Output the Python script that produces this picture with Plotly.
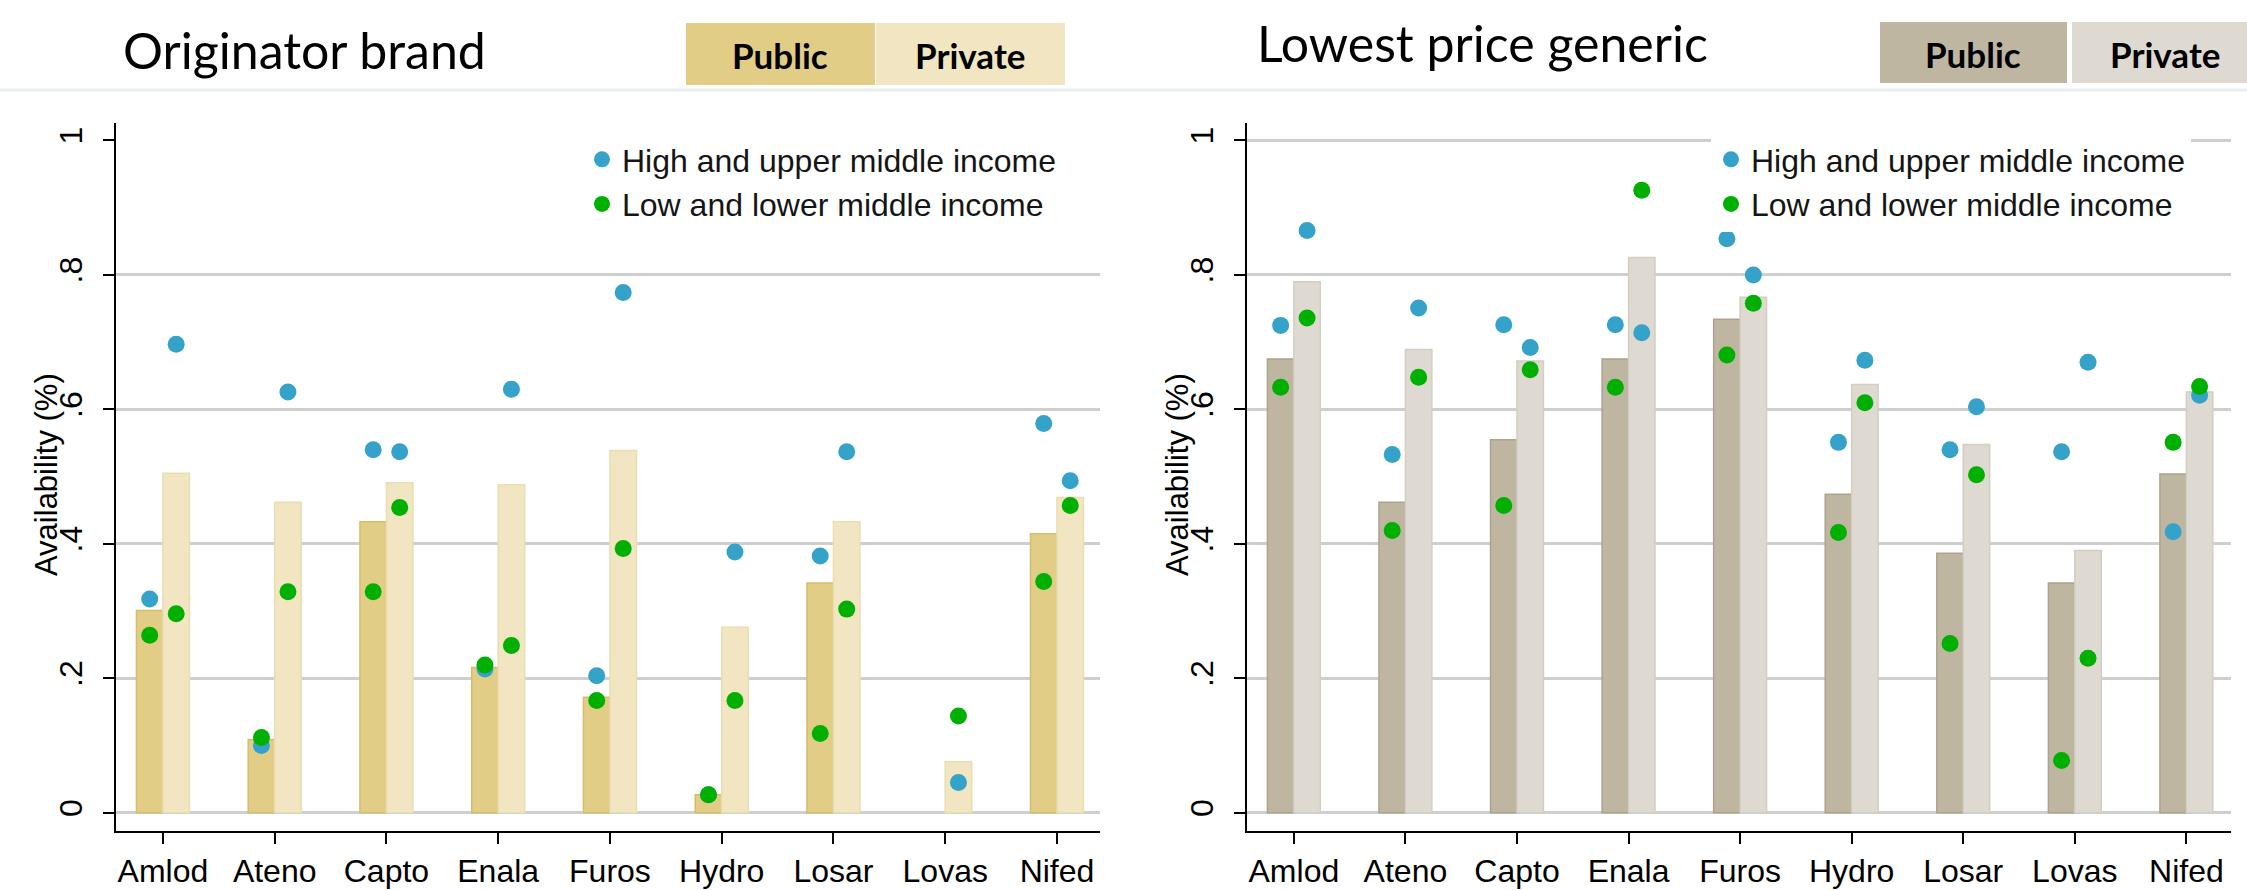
import plotly.graph_objects as go

W, H = 2247, 890

categories = ['Amlod', 'Ateno', 'Capto', 'Enala', 'Furos', 'Hydro', 'Losar', 'Lovas', 'Nifed']
ytick_vals = [0, 0.2, 0.4, 0.6, 0.8, 1]
ytick_text = ['0', '.2', '.4', '.6', '.8', '1']

# Originator brand
orig_public_bar = [0.301, 0.109, 0.433, 0.216, 0.172, 0.027, 0.342, None, 0.415]
orig_private_bar = [0.505, 0.462, 0.491, 0.488, 0.539, 0.276, 0.433, 0.076, 0.469]
orig_public_high = [0.318, 0.100, 0.540, 0.214, 0.204, 0.027, 0.382, None, 0.579]
orig_public_low = [0.264, 0.112, 0.329, 0.220, 0.167, 0.027, 0.118, None, 0.344]
orig_private_high = [0.697, 0.626, 0.537, 0.630, 0.774, 0.388, 0.537, 0.045, 0.494]
orig_private_low = [0.296, 0.329, 0.454, 0.249, 0.393, 0.167, 0.303, 0.144, 0.457]

# Lowest price generic
gen_public_bar = [0.675, 0.462, 0.555, 0.675, 0.734, 0.474, 0.386, 0.342, 0.504]
gen_private_bar = [0.790, 0.689, 0.672, 0.826, 0.767, 0.637, 0.548, 0.390, 0.626]
gen_public_high = [0.725, 0.533, 0.726, 0.726, 0.854, 0.551, 0.540, 0.537, 0.418]
gen_public_low = [0.633, 0.420, 0.457, 0.633, 0.681, 0.417, 0.252, 0.078, 0.551]
gen_private_high = [0.866, 0.751, 0.692, 0.714, 0.800, 0.673, 0.604, 0.670, 0.621]
gen_private_low = [0.736, 0.648, 0.659, 0.926, 0.758, 0.610, 0.503, 0.230, 0.634]

BLUE = '#35A2CA'
GREEN = '#00B000'
BW = 0.237
FONT = 'Liberation Sans, Arial, sans-serif'
TFONT = 'Lato, sans-serif'

fig = go.Figure()
idx = list(range(len(categories)))


def add_panel(xa, ya, pub_bar, priv_bar, pub_hi, pub_lo, priv_hi, priv_lo,
              pub_col, pub_line, priv_col, priv_line, legend):
    fig.add_trace(go.Bar(x=idx, y=pub_bar, width=BW, offset=-BW, xaxis=xa, yaxis=ya,
                         marker=dict(color=pub_col, line=dict(color=pub_line, width=1.5)),
                         showlegend=False, hoverinfo='skip'))
    fig.add_trace(go.Bar(x=idx, y=priv_bar, width=BW, offset=0, xaxis=xa, yaxis=ya,
                         marker=dict(color=priv_col, line=dict(color=priv_line, width=1.5)),
                         showlegend=False, hoverinfo='skip'))
    xs = [i - BW / 2 for i in idx] + [i + BW / 2 for i in idx]
    fig.add_trace(go.Scatter(x=xs, y=pub_hi + priv_hi, mode='markers', xaxis=xa, yaxis=ya,
                             marker=dict(color=BLUE, size=17, line=dict(width=0)),
                             name='High and upper middle income', legend=legend))
    fig.add_trace(go.Scatter(x=xs, y=pub_lo + priv_lo, mode='markers', xaxis=xa, yaxis=ya,
                             marker=dict(color=GREEN, size=17, line=dict(width=0)),
                             name='Low and lower middle income', legend=legend))


add_panel('x', 'y', orig_public_bar, orig_private_bar, orig_public_high, orig_public_low,
          orig_private_high, orig_private_low, '#E2CD86', '#D5BD6C', '#F1E6C1', '#EADDB2', 'legend')
add_panel('x2', 'y2', gen_public_bar, gen_private_bar, gen_public_high, gen_public_low,
          gen_private_high, gen_private_low, '#BFB6A2', '#ADA28B', '#DEDAD2', '#D3CEC3', 'legend2')

ybot, ytop = 59 / H, 767 / H


def xaxis(domain, rng):
    return dict(domain=domain, range=rng, tickmode='array', tickvals=idx, ticktext=categories,
                showline=True, linecolor='black', linewidth=2, ticks='outside', ticklen=11,
                tickwidth=2, tickcolor='black', showgrid=False, zeroline=False,
                tickfont=dict(family=FONT, size=32, color='black'))


def yaxis(anchor, gridvals):
    return dict(domain=[ybot, ytop], range=[-0.027, 1.026], anchor=anchor,
                tickmode='array', tickvals=ytick_vals, ticktext=ytick_text, tickangle=-90,
                showline=True, linecolor='black', linewidth=2, ticks='outside', ticklen=11,
                tickwidth=2, tickcolor='black', showgrid=False, zeroline=False,
                ticklabelstandoff=8,
                tickfont=dict(family=FONT, size=32, color='black'),
                minor=dict(tickmode='array', tickvals=gridvals, showgrid=True,
                           gridcolor='#CFCFCF', gridwidth=2.5, ticks=''))


legend_common = dict(xanchor='left', yanchor='top', bgcolor='white', borderwidth=0,
                     font=dict(family=FONT, size=32, color='#151515'),
                     itemsizing='trace', tracegroupgap=0)

fig.update_layout(
    width=W, height=H, margin=dict(l=0, r=0, t=0, b=0),
    paper_bgcolor='white', plot_bgcolor='white',
    barmode='overlay',
    xaxis=xaxis([116 / W, 1100 / W], [-0.42, 8.385]) | dict(anchor='y'),
    yaxis=yaxis('x', [0, 0.2, 0.4, 0.6, 0.8]),
    xaxis2=xaxis([1247 / W, 2231 / W], [-0.42, 8.40]) | dict(anchor='y2'),
    yaxis2=yaxis('x2', [0, 0.2, 0.4, 0.6, 0.8, 1]),
    legend=legend_common | dict(x=582 / W, y=1 - 132 / H),
    legend2=legend_common | dict(x=1711 / W, y=1 - 132 / H),
)

# header
shapes = [
    dict(type='line', xref='paper', yref='paper', x0=0, x1=1, y0=1 - 90 / H, y1=1 - 90 / H,
         line=dict(color='#E6EDEF', width=3)),
]
boxes = [
    (686, 875, 23, 85, '#E2CD86', 'Public', 780),
    (876, 1065, 23, 85, '#F1E6C1', 'Private', 970),
    (1880, 2067, 22, 83, '#BFB6A2', 'Public', 1973),
    (2072, 2258, 22, 83, '#DEDAD2', 'Private', 2165),
]
annotations = []
for x0, x1, y0, y1, col, txt, cx in boxes:
    shapes.append(dict(type='rect', xref='paper', yref='paper', x0=x0 / W, x1=x1 / W,
                       y0=1 - y1 / H, y1=1 - y0 / H, fillcolor=col, line=dict(width=0), layer='below'))
    annotations.append(dict(xref='paper', yref='paper', x=cx / W, y=1 - ((y0 + y1) / 2 + 1) / H,
                            xanchor='center', yanchor='middle', showarrow=False,
                            text='<b>' + txt + '</b>', font=dict(family=TFONT, size=35, color='black')))

annotations.append(dict(xref='paper', yref='paper', x=121 / W, y=1 - 50 / H, xanchor='left',
                        yanchor='middle', showarrow=False, text='Originator brand',
                        font=dict(family=TFONT, size=50, color='black')))
annotations.append(dict(xref='paper', yref='paper', x=1255 / W, y=1 - 43 / H, xanchor='left',
                        yanchor='middle', showarrow=False, text='Lowest price generic',
                        font=dict(family=TFONT, size=50, color='black')))

# y-axis titles
for xpos in (46, 46 + 1131):
    annotations.append(dict(xref='paper', yref='paper', x=xpos / W, y=1 - 475 / H,
                            xanchor='center', yanchor='middle', showarrow=False, textangle=-90,
                            text='Availability (%)',
                            font=dict(family=FONT, size=31, color='black')))

fig.update_layout(shapes=shapes, annotations=annotations)

fig.write_html('out.html', config={'displayModeBar': False},
               post_script="document.body.style.margin='0';document.body.style.overflow='hidden';")
